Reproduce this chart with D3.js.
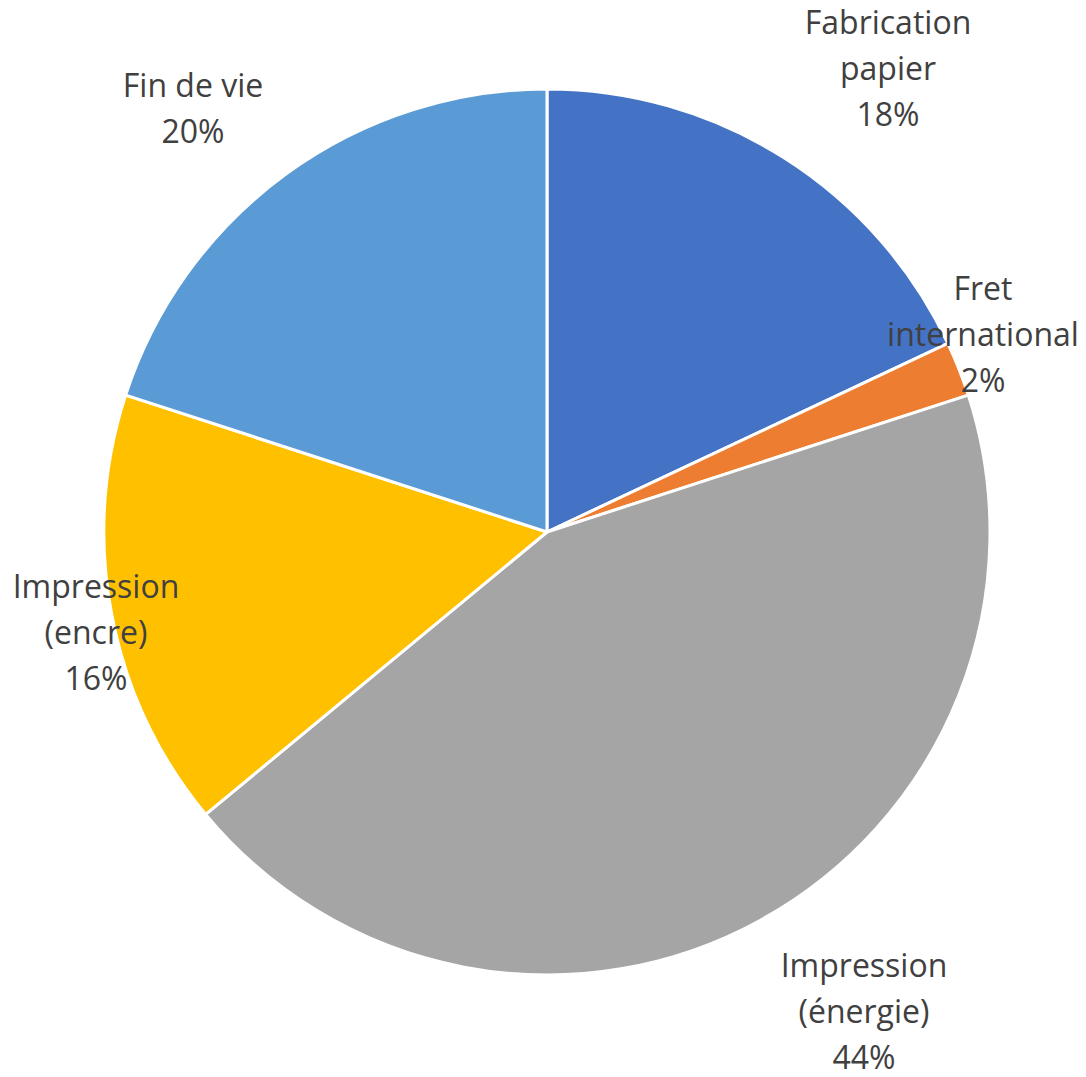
<!DOCTYPE html>
<html><head><meta charset="utf-8">
<script src="https://cdn.jsdelivr.net/npm/d3@7"></script>
<style>body{margin:0;background:#fff}svg{display:block}</style>
</head><body>
<script>
const categories = ["Fabrication papier", "Fret international", "Impression (énergie)", "Impression (encre)", "Fin de vie"];
const values = [18, 2, 44, 16, 20];
const colors = ["#4472C4", "#ED7D31", "#A5A5A5", "#FFC000", "#5B9BD5"];
const labelLines = [["Fabrication", "papier", "18%"], ["Fret", "international", "2%"], ["Impression", "(énergie)", "44%"], ["Impression", "(encre)", "16%"], ["Fin de vie", "20%"]];
const labelPos = [[888, 21], [983, 287], [864, 964], [96, 585], [193, 84]];

const W = 1086, H = 1077;
const svg = d3.select("body").append("svg").attr("width", W).attr("height", H);
const cx = 547, cy = 532, R = 443;
const pie = d3.pie().sort(null).value(d => d)(values);
const arc = d3.arc().innerRadius(0).outerRadius(R);
const g = svg.append("g").attr("transform", `translate(${cx},${cy})`);
g.selectAll("path").data(pie).join("path")
  .attr("d", arc).attr("fill", (d, i) => colors[i])
  .attr("stroke", "#fff").attr("stroke-width", 3).attr("stroke-linejoin", "round");

const lab = svg.append("g");
labelLines.forEach((lines, i) => {
  const t = lab.append("text").attr("text-anchor", "middle")
    .attr("font-family", "'Open Sans', 'Noto Sans', sans-serif").attr("font-size", 32)
    .attr("fill", "#404040");
  lines.forEach((s, j) => {
    t.append("tspan").attr("x", labelPos[i][0]).attr("y", labelPos[i][1] + j * 46)
      .attr("dominant-baseline", "central").text(s);
  });
});
</script>
</body></html>
